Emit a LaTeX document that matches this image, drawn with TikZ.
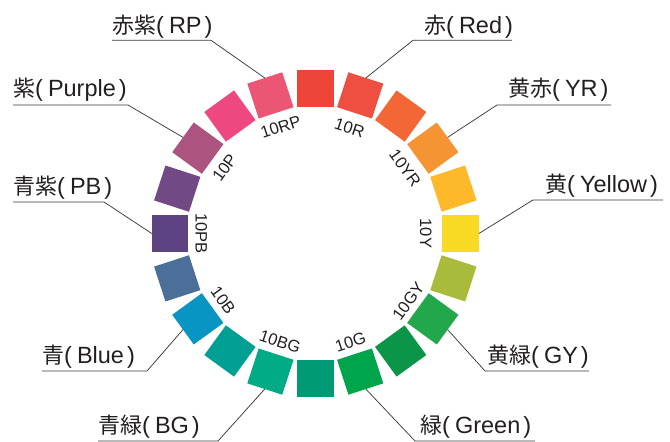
\documentclass[tikz,border=0pt]{standalone}
\usepackage{fontspec}
\setmainfont{Liberation Sans}
\newfontfamily\cjkf{Noto Sans CJK JP}
\usetikzlibrary{calc}
\newcommand{\huelabel}[2]{{\fontsize{22}{22}\selectfont\cjkf #1}{\fontsize{23.5}{23.5}\selectfont(\hspace{5pt}#2\hspace{3pt})}}
\definecolor{txt}{HTML}{231F20}
\definecolor{lin}{HTML}{3A3A3A}
\definecolor{k90}{HTML}{EE4538}
\definecolor{k72}{HTML}{EF4F40}
\definecolor{k54}{HTML}{F26735}
\definecolor{k36}{HTML}{F59432}
\definecolor{k18}{HTML}{FDB92A}
\definecolor{k0}{HTML}{F8DA22}
\definecolor{km18}{HTML}{AABB3B}
\definecolor{km36}{HTML}{22A84B}
\definecolor{km54}{HTML}{0A9548}
\definecolor{km72}{HTML}{00A54B}
\definecolor{km90}{HTML}{009A74}
\definecolor{km108}{HTML}{00AB85}
\definecolor{km126}{HTML}{009F94}
\definecolor{km144}{HTML}{0895C3}
\definecolor{km162}{HTML}{4B6F99}
\definecolor{k180}{HTML}{5E4382}
\definecolor{k162}{HTML}{714985}
\definecolor{k144}{HTML}{AC547F}
\definecolor{k126}{HTML}{EF4780}
\definecolor{k108}{HTML}{EC5675}
\begin{document}
\begin{tikzpicture}[x=1pt,y=1pt,
  sq/.style={minimum size=36.7pt, inner sep=0pt, outer sep=0pt},
  tick/.style={font=\fontsize{16.5}{16.5}\selectfont, inner sep=0pt, text=txt},
  cname/.style={inner sep=0pt, anchor=base west, text=txt},
  leader/.style={draw=lin, line width=0.75pt}]
\useasboundingbox (0,0) rectangle (670,442);
\coordinate (C) at (315.3,208.5);
\foreach \a/\c in {90/k90,72/k72,54/k54,36/k36,18/k18,0/k0,-18/km18,-36/km36,-54/km54,-72/km72,-90/km90,-108/km108,-126/km126,-144/km144,-162/km162,180/k180,162/k162,144/k144,126/k126,108/k108}{
  \node[sq, fill=\c, rotate=\a-90] (s\a) at ($(C)+(\a:145.2)$) {};
}
% hue tick labels
\node[tick, rotate=-90] (t0)   at ($(C)+(0:110.5)$)   {10Y};
\node[tick, rotate=-54] (t36)  at ($(C)+(36:111)$)  {10YR};
\node[tick, rotate=-18] (t72)  at ($(C)+(72:111)$)  {10R};
\node[tick, rotate=18]  (t108) at ($(C)+(108:112)$) {10RP};
\node[tick, rotate=54]  (t144) at ($(C)+(144:112)$) {10P};
\node[tick, rotate=-90] (t180) at ($(C)+(180:114)$) {10PB};
\node[tick, rotate=-54] (t216) at ($(C)+(216:114)$) {10B};
\node[tick, rotate=-18] (t252) at ($(C)+(252:114)$) {10BG};
\node[tick, rotate=18]  (t288) at ($(C)+(288:114)$) {10G};
\node[tick, rotate=54]  (t324) at ($(C)+(324:115)$) {10GY};
% names
\node[cname] (nRP) at (112,408.5) {\huelabel{赤紫}{RP}};
\coordinate (aRP) at (211,401.7); \coordinate (bRP) at (112,401.7);
\draw[leader] (s108.north) -- (aRP) -- (bRP);

\node[cname] (nR) at (424,408.5) {\huelabel{赤}{Red}};
\coordinate (aR) at (413,401.7); \coordinate (bR) at (512,401.7);
\draw[leader] (s72.north) -- (aR) -- (bR);

\node[cname] (nP) at (13,345.3) {\huelabel{紫}{Purple}};
\coordinate (aP) at (128,337); \coordinate (bP) at (13,337);
\draw[leader] (s144.north) -- (aP) -- (bP);

\node[cname] (nYR) at (508,345.3) {\huelabel{黄赤}{YR}};
\coordinate (aYR) at (497,337); \coordinate (bYR) at (611,337);
\draw[leader] (s36.north) -- (aYR) -- (bYR);

\node[cname] (nPB) at (13,247) {\huelabel{青紫}{PB}};
\coordinate (aPB) at (104,240); \coordinate (bPB) at (13,240);
\draw[leader] (s180.north) -- (aPB) -- (bPB);

\node[cname] (nY) at (545,249.3) {\huelabel{黄}{Yellow}};
\coordinate (aY) at (533,242); \coordinate (bY) at (663,242);
\draw[leader] (s0.north) -- (aY) -- (bY);

\node[cname] (nB) at (42,78.7) {\huelabel{青}{Blue}};
\coordinate (aB) at (147,71); \coordinate (bB) at (42,71);
\draw[leader] (s-144.north) -- (aB) -- (bB);

\node[cname] (nGY) at (487,78.7) {\huelabel{黄緑}{GY}};
\coordinate (aGY) at (485,71); \coordinate (bGY) at (589,71);
\draw[leader] (s-36.north) -- (aGY) -- (bGY);

\node[cname] (nBG) at (98,8.7) {\huelabel{青緑}{BG}};
\coordinate (aBG) at (218,1); \coordinate (bBG) at (98,1);
\draw[leader] (s-108.north) -- (aBG) -- (bBG);

\node[cname] (nG) at (420,8.7) {\huelabel{緑}{Green}};
\coordinate (aG) at (415,1); \coordinate (bG) at (535,1);
\draw[leader] (s-72.north) -- (aG) -- (bG);
\end{tikzpicture}
\end{document}
